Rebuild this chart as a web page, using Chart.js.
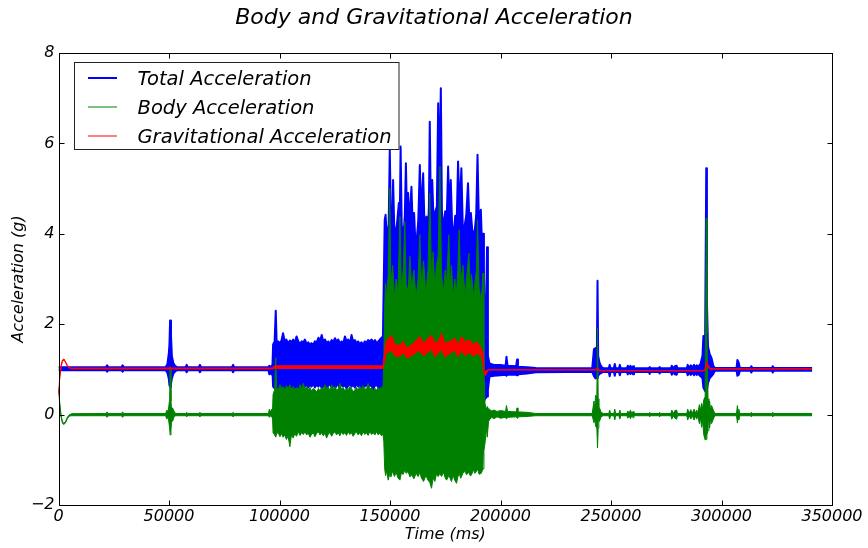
<!DOCTYPE html>
<html>
<head>
<meta charset="UTF-8">
<title>Body and Gravitational Acceleration</title>
<script src="https://cdn.jsdelivr.net/npm/chart.js@4.4.0/dist/chart.umd.min.js"></script>
<style>
  html, body { margin: 0; padding: 0; background: #fff; }
  canvas { display: block; }
</style>
</head>
<body>
<canvas id="chart" width="868" height="548"></canvas>
<script>
// ── 데이터: 각 행 = [time (ms), 하한 (g), 상한 (g)] — 그림에서 읽은 신호 포락선 ──
const totalAccel = [
  [0, 0.98, 1.05], [21500, 0.98, 1.05], [22000, 0.95, 1.09], [22500, 0.98, 1.05],
  [28500, 0.98, 1.05], [29000, 0.95, 1.09], [29500, 0.98, 1.05], [48500, 0.98, 1.05],
  [49300, 0.92, 1.12], [49900, 0.80, 1.35], [50200, 0.65, 1.55], [50500, 0.61, 2.08],
  [50900, 0.68, 1.75], [51300, 0.80, 1.30], [51900, 0.90, 1.15], [52700, 0.95, 1.08],
  [53500, 0.98, 1.05], [57500, 0.98, 1.05], [58000, 0.94, 1.10], [58500, 0.98, 1.05],
  [63500, 0.98, 1.05], [64000, 0.94, 1.10], [64500, 0.98, 1.05], [78500, 0.98, 1.05],
  [79000, 0.94, 1.10], [79500, 0.98, 1.05], [95000, 0.98, 1.05], [95400, 0.89, 1.08],
  [96000, 0.95, 1.04], [96400, 0.89, 1.08], [96800, 0.98, 1.05],
  // 97000 ~ 147000
  [97100, 0.62, 1.55], [97800, 0.58, 1.62], [98300, 0.60, 2.30], [98700, 0.55, 1.60],
  [99400, 0.62, 1.62], [100200, 0.52, 1.58], [100900, 0.60, 1.64], [101600, 0.56, 1.80],
  [102400, 0.64, 1.62], [103100, 0.50, 1.66], [103900, 0.60, 1.58], [104700, 0.58, 1.64],
  [105400, 0.65, 1.60], [106200, 0.54, 1.66], [106900, 0.62, 1.58], [107700, 0.57, 1.73],
  [108500, 0.63, 1.62], [109300, 0.55, 1.56], [110000, 0.66, 1.62], [110800, 0.58, 1.60],
  [111500, 0.62, 1.66], [112300, 0.68, 1.56], [113000, 0.60, 1.60], [113800, 0.66, 1.54],
  [114500, 0.62, 1.58], [115300, 0.68, 1.54], [116000, 0.60, 1.62], [116800, 0.66, 1.60],
  [117600, 0.62, 1.70], [118300, 0.68, 1.62], [119100, 0.58, 1.76], [119800, 0.64, 1.62],
  [120600, 0.60, 1.66], [121300, 0.56, 1.58], [122100, 0.64, 1.62], [122800, 0.68, 1.56],
  [123600, 0.60, 1.65], [124300, 0.66, 1.60], [125100, 0.58, 1.69], [125800, 0.64, 1.62],
  [126600, 0.66, 1.66], [127300, 0.60, 1.58], [128100, 0.68, 1.62], [128800, 0.62, 1.56],
  [129600, 0.66, 1.73], [130300, 0.58, 1.62], [131100, 0.64, 1.66], [131800, 0.68, 1.56],
  [132600, 0.62, 1.76], [133300, 0.66, 1.62], [134100, 0.60, 1.65], [134800, 0.68, 1.58],
  [135600, 0.62, 1.62], [136300, 0.66, 1.56], [137100, 0.60, 1.60], [137800, 0.66, 1.54],
  [138600, 0.62, 1.62], [139300, 0.68, 1.58], [140100, 0.60, 1.65], [140800, 0.66, 1.62],
  [141700, 0.62, 1.66], [142400, 0.56, 1.60], [143200, 0.64, 1.65], [143900, 0.66, 1.58],
  [144700, 0.60, 1.62], [145400, 0.58, 1.66], [146200, 0.56, 1.70], [146800, 0.55, 1.73],
  // 147000 ~ 195000
  [147200, 0.50, 3.00], [147600, 0.00, 4.30], [148000, -0.40, 4.42], [148600, -0.40, 3.90],
  [149400, -0.40, 4.20], [149900, -0.40, 5.86], [150400, -0.40, 4.30], [151000, -0.40, 4.00],
  [151400, -0.40, 5.19], [151900, -0.40, 4.20], [152500, -0.40, 3.90], [153300, -0.40, 4.30],
  [154000, -0.40, 4.68], [154400, -0.40, 4.20], [154800, -0.40, 5.93], [155300, -0.40, 4.20],
  [156000, -0.40, 3.90], [156700, -0.40, 4.40], [157200, -0.40, 5.56], [157700, -0.40, 4.30],
  [158200, -0.40, 4.90], [158800, -0.40, 4.20], [159700, -0.40, 5.04], [160200, -0.40, 4.30],
  [160900, -0.40, 4.46], [161400, -0.40, 3.90], [162000, -0.40, 3.80], [162800, -0.40, 4.30],
  [163500, -0.40, 5.52], [164000, -0.40, 4.40], [165000, -0.40, 5.34], [165600, -0.40, 4.20],
  [166500, -0.40, 4.38], [167100, -0.40, 4.00], [167600, -0.40, 4.60], [168000, -0.40, 6.48],
  [168500, -0.40, 4.40], [169100, -0.40, 5.19], [169700, -0.40, 4.30], [170500, -0.40, 4.50],
  [171200, -0.40, 4.60], [171800, -0.40, 6.89], [172300, -0.40, 5.00], [173000, -0.40, 7.22],
  [173500, -0.40, 4.50], [174000, -0.40, 4.10], [175000, -0.40, 4.50], [175700, -0.40, 4.40],
  [176300, -0.40, 5.49], [176900, -0.40, 4.40], [177500, -0.40, 5.19], [178100, -0.40, 4.20],
  [178700, -0.40, 3.90], [179500, -0.40, 4.40], [180200, -0.40, 4.30], [180800, -0.40, 5.60],
  [181500, -0.40, 4.50], [182300, -0.40, 5.45], [182900, -0.40, 4.20], [183500, -0.40, 4.10],
  [184500, -0.40, 4.40], [185300, -0.40, 5.12], [185900, -0.40, 4.30], [186600, -0.40, 4.46],
  [187500, -0.40, 3.90], [188400, -0.40, 4.10], [189000, -0.40, 4.40], [189600, -0.40, 5.75],
  [190200, -0.40, 4.30], [191100, -0.40, 4.53], [191600, -0.40, 3.80], [192100, -0.40, 4.00],
  [192500, 0.30, 3.20], [193000, 0.35, 1.50], [193400, 0.35, 2.00], [193900, 0.40, 3.70],
  [194300, 0.55, 1.30], [195000, 0.84, 1.13],
  // 195000 ~ 341000
  [197000, 0.86, 1.10], [200000, 0.87, 1.10], [202300, 0.88, 1.08], [202700, 0.86, 1.28],
  [203200, 0.88, 1.08], [207100, 0.88, 1.07], [207500, 0.87, 1.22], [207900, 0.89, 1.06],
  [212000, 0.91, 1.05], [216000, 0.935, 1.03], [230000, 0.945, 1.025], [241500, 0.945, 1.025],
  [242300, 0.85, 1.45], [243000, 0.80, 1.47], [243600, 0.82, 1.30], [243900, 0.80, 2.96],
  [244200, 0.86, 1.30], [244800, 0.90, 1.15], [245500, 0.92, 1.07], [246500, 0.945, 1.025],
  [249000, 0.945, 1.025], [249400, 0.85, 1.10], [249800, 0.945, 1.025], [251300, 0.945, 1.025],
  [251700, 0.86, 1.12], [252100, 0.945, 1.025], [253600, 0.945, 1.025], [254000, 0.87, 1.10],
  [254400, 0.945, 1.025], [257200, 0.945, 1.025], [257600, 0.89, 1.08], [258200, 0.945, 1.025],
  [258800, 0.90, 1.08], [259400, 0.945, 1.025], [260000, 0.89, 1.07], [260400, 0.945, 1.025],
  [267100, 0.945, 1.025], [267500, 0.90, 1.05], [267900, 0.945, 1.025], [271600, 0.945, 1.025],
  [272000, 0.91, 1.05], [272400, 0.945, 1.025], [277100, 0.945, 1.025], [277500, 0.88, 1.08],
  [278200, 0.945, 1.025], [278900, 0.89, 1.07], [279700, 0.88, 1.08], [280100, 0.945, 1.025],
  [284300, 0.945, 1.025], [284700, 0.87, 1.10], [285400, 0.93, 1.04], [286100, 0.88, 1.09],
  [286800, 0.93, 1.04], [287600, 0.87, 1.10], [288300, 0.92, 1.04], [288800, 0.88, 1.09],
  [289300, 0.91, 1.05], [290500, 0.85, 1.12], [291400, 0.80, 1.30], [291800, 0.60, 1.74],
  [292600, 0.52, 1.74], [293100, 0.50, 5.45], [293400, 0.55, 2.50], [293900, 0.70, 1.50],
  [294600, 0.80, 1.35], [295500, 0.85, 1.25], [296300, 0.90, 1.08], [297000, 0.97, 1.03],
  [306800, 0.97, 1.03], [307200, 0.86, 1.21], [307800, 0.88, 1.15], [308300, 0.97, 1.03],
  [313100, 0.97, 1.03], [313500, 0.93, 1.07], [313900, 0.97, 1.03], [322800, 0.97, 1.03],
  [323200, 0.93, 1.07], [323600, 0.97, 1.03], [341000, 0.97, 1.03]
]

const bodyAccel = [
  [0, 0.55, 0.60], [600, 0.19, 0.23], [1200, -0.06, -0.03], [1800, -0.19, -0.16],
  [2400, -0.22, -0.19], [3200, -0.18, -0.15], [4000, -0.09, -0.06], [5000, -0.03, 0.00],
  [6000, -0.025, 0.02], [21500, -0.025, 0.025], [22000, -0.06, 0.06], [22500, -0.025, 0.025],
  [28500, -0.025, 0.025], [29000, -0.06, 0.06], [29500, -0.025, 0.025], [48500, -0.025, 0.025],
  [49000, -0.10, 0.10], [49500, -0.05, 0.06], [49900, -0.15, 0.18], [50300, -0.30, 0.35],
  [50500, -0.45, 1.03], [50900, -0.35, 0.30], [51200, -0.10, 0.10], [51600, -0.15, 0.15],
  [52200, -0.06, 0.08], [53000, -0.025, 0.025],
  [57500, -0.025, 0.025], [58000, -0.05, 0.05], [58500, -0.025, 0.025], [63500, -0.025, 0.025],
  [64000, -0.05, 0.05], [64500, -0.025, 0.025], [78500, -0.025, 0.025], [79000, -0.05, 0.05],
  [79500, -0.025, 0.025], [95000, -0.025, 0.025], [95400, -0.06, 0.12], [96000, -0.02, 0.05],
  [96400, -0.06, 0.12], [96800, -0.025, 0.025],
  // 97000 ~ 147000
  [97100, -0.40, 0.45], [97800, -0.45, 0.55], [98300, -0.50, 1.26], [98700, -0.42, 0.60],
  [99400, -0.40, 0.55], [100200, -0.49, 0.66], [100900, -0.42, 0.58], [101600, -0.50, 0.62],
  [102400, -0.45, 0.55], [103100, -0.55, 0.64], [103900, -0.48, 0.58], [104700, -0.71, 0.66],
  [105400, -0.45, 0.56], [106200, -0.52, 0.62], [106900, -0.42, 0.55], [107700, -0.48, 0.60],
  [108500, -0.38, 0.54], [109300, -0.46, 0.66], [110000, -0.40, 0.58], [110800, -0.44, 0.69],
  [111500, -0.38, 0.56], [112300, -0.45, 0.62], [113000, -0.41, 0.55], [113800, -0.50, 0.60],
  [114500, -0.44, 0.52], [115300, -0.40, 0.58], [116000, -0.49, 0.55], [116800, -0.42, 0.50],
  [117600, -0.38, 0.58], [118300, -0.45, 0.52], [119100, -0.40, 0.60], [119800, -0.47, 0.55],
  [120600, -0.41, 0.66], [121300, -0.52, 0.58], [122100, -0.43, 0.62], [122800, -0.40, 0.52],
  [123600, -0.48, 0.66], [124300, -0.42, 0.56], [125100, -0.38, 0.62], [125800, -0.45, 0.54],
  [126600, -0.40, 0.58], [127300, -0.47, 0.69], [128100, -0.38, 0.55], [128800, -0.44, 0.60],
  [129600, -0.40, 0.52], [130300, -0.46, 0.58], [131100, -0.38, 0.55], [131800, -0.44, 0.62],
  [132600, -0.40, 0.58], [133300, -0.48, 0.50], [134100, -0.42, 0.55], [134800, -0.38, 0.60],
  [135600, -0.45, 0.54], [136300, -0.40, 0.62], [137100, -0.47, 0.56], [137800, -0.38, 0.64],
  [138600, -0.44, 0.58], [139300, -0.40, 0.55], [140100, -0.46, 0.69], [140800, -0.38, 0.56],
  [141700, -0.44, 0.60], [142400, -0.40, 0.52], [143200, -0.45, 0.58], [143900, -0.38, 0.54],
  [144700, -0.45, 0.60], [145400, -0.41, 0.55], [146200, -0.47, 0.62], [146800, -0.42, 0.58],
  // 147000 ~ 195000
  [147200, -0.60, 1.20], [147600, -1.20, 2.40], [148000, -1.35, 2.90], [148500, -1.25, 2.60],
  [149200, -1.45, 3.10], [149900, -1.30, 5.00], [150400, -1.38, 2.80], [151200, -1.25, 3.30],
  [152000, -1.37, 2.60], [152800, -1.28, 3.00], [153600, -1.40, 2.70], [154500, -1.45, 4.38],
  [155100, -1.30, 2.80], [156000, -1.32, 3.20], [156700, -1.22, 4.27], [157300, -1.30, 2.90],
  [158200, -1.26, 2.70], [159000, -1.38, 3.50], [159800, -1.33, 2.80], [160800, -1.42, 3.20],
  [161800, -1.30, 2.60], [162700, -1.37, 3.00], [163500, -1.28, 3.98], [164200, -1.40, 2.90],
  [165200, -1.48, 3.40], [166200, -1.35, 2.70], [167200, -1.45, 3.20], [168000, -1.50, 4.90],
  [168800, -1.63, 3.00], [169500, -1.40, 3.60], [170300, -1.48, 2.80], [171000, -1.32, 3.30],
  [171800, -1.37, 3.50], [172600, -1.30, 5.49], [173300, -1.37, 3.10], [174200, -1.28, 2.70],
  [175000, -1.40, 3.20], [175600, -1.45, 2.90], [176600, -1.35, 3.98], [177300, -1.42, 2.80],
  [177800, -1.48, 3.30], [178600, -1.35, 2.60], [179300, -1.45, 3.00], [180100, -1.52, 2.70],
  [180700, -1.38, 3.20], [181300, -1.30, 4.09], [182000, -1.41, 2.90], [183000, -1.30, 3.30],
  [184000, -1.25, 2.60], [184600, -1.33, 3.00], [185700, -1.28, 3.57], [186400, -1.36, 2.80],
  [186900, -1.33, 3.10], [187800, -1.22, 2.60], [188400, -1.30, 2.90], [189100, -1.26, 3.20],
  [189600, -1.20, 4.31], [190300, -1.32, 2.80], [191300, -1.30, 2.50], [192100, -1.20, 3.13],
  [192500, -0.80, 1.00], [193000, -0.63, 0.25], [193600, -0.30, 0.10], [194000, -0.50, 0.18],
  [194600, -0.15, 0.12], [195000, -0.12, 0.12],
  // 195000 ~ 341000
  [196000, -0.06, 0.08], [197000, -0.09, 0.10], [198500, -0.05, 0.07], [200000, -0.08, 0.09],
  [202300, -0.06, 0.07], [202700, -0.10, 0.20], [203200, -0.06, 0.07], [207100, -0.05, 0.06],
  [207500, -0.08, 0.15], [207900, -0.05, 0.06], [212000, -0.04, 0.05], [216000, -0.025, 0.025],
  [241500, -0.025, 0.025], [242300, -0.18, 0.30], [242700, -0.08, 0.12], [243000, -0.25, 0.43],
  [243600, -0.30, 0.40], [243900, -0.74, 1.91], [244200, -0.30, 0.35], [244500, -0.08, 0.10],
  [244800, -0.15, 0.15], [245500, -0.05, 0.05], [246500, -0.025, 0.025], [249000, -0.025, 0.025],
  [249400, -0.10, 0.10], [249800, -0.025, 0.025], [251300, -0.025, 0.025], [251700, -0.12, 0.12],
  [252100, -0.025, 0.025], [253600, -0.025, 0.025], [254000, -0.10, 0.10], [254400, -0.025, 0.025],
  [257200, -0.025, 0.025], [257600, -0.08, 0.08], [258200, -0.025, 0.025], [258800, -0.09, 0.10],
  [259400, -0.025, 0.025], [260000, -0.07, 0.07], [260400, -0.025, 0.025], [267100, -0.025, 0.025],
  [267500, -0.05, 0.05], [267900, -0.025, 0.025], [271600, -0.025, 0.025], [272000, -0.05, 0.05],
  [272400, -0.025, 0.025], [277100, -0.025, 0.025], [277500, -0.10, 0.10], [278200, -0.025, 0.025],
  [278900, -0.08, 0.09], [279700, -0.10, 0.10], [280100, -0.025, 0.025], [284300, -0.025, 0.025],
  [284700, -0.12, 0.12], [285400, -0.025, 0.03], [286100, -0.10, 0.11], [286800, -0.025, 0.03],
  [287600, -0.12, 0.12], [288300, -0.03, 0.03], [288800, -0.10, 0.10], [289300, -0.03, 0.03],
  [290000, -0.20, 0.22], [290500, -0.08, 0.10], [291000, -0.28, 0.25], [291400, -0.12, 0.12],
  [292000, -0.45, 0.33], [292600, -0.56, 0.40], [293100, -0.55, 4.35], [293400, -0.45, 1.80],
  [293900, -0.35, 0.35], [294300, -0.12, 0.15], [294600, -0.30, 0.30], [295100, -0.10, 0.10],
  [295500, -0.20, 0.20], [296300, -0.10, 0.10], [297000, -0.025, 0.025], [306800, -0.025, 0.025],
  [307200, -0.18, 0.20], [307500, -0.05, 0.05], [307800, -0.12, 0.12], [308300, -0.025, 0.025],
  [313100, -0.025, 0.025], [313500, -0.05, 0.05], [313900, -0.025, 0.025], [322800, -0.025, 0.025],
  [323200, -0.05, 0.05], [323600, -0.025, 0.025], [341000, -0.025, 0.025]
]

const gravAccel = [
  [0, 0.44, 0.47], [600, 0.83, 0.86], [1200, 1.06, 1.09], [1800, 1.18, 1.21],
  [2500, 1.21, 1.23], [3200, 1.15, 1.17], [4000, 1.07, 1.09], [5000, 1.02, 1.04],
  [6000, 1.01, 1.03], [50000, 1.01, 1.03], [50500, 1.00, 1.06], [51000, 1.01, 1.03],
  [97000, 1.01, 1.03], [97600, 1.02, 1.08], [146800, 1.02, 1.08],
  [147500, 1.15, 1.35], [148200, 1.35, 1.62], [149200, 1.38, 1.68], [150700, 1.42, 1.76],
  [152200, 1.30, 1.54], [154500, 1.28, 1.54], [156000, 1.38, 1.62], [157500, 1.25, 1.47],
  [159700, 1.30, 1.54], [162000, 1.38, 1.65], [163500, 1.42, 1.73], [165000, 1.30, 1.58],
  [167300, 1.38, 1.69], [168800, 1.45, 1.76], [170300, 1.28, 1.58], [171800, 1.35, 1.62],
  [173300, 1.45, 1.80], [174800, 1.27, 1.58], [177100, 1.35, 1.62], [179300, 1.42, 1.69],
  [180800, 1.28, 1.54], [182400, 1.42, 1.73], [183900, 1.30, 1.62], [186100, 1.38, 1.65],
  [187600, 1.28, 1.54], [189100, 1.35, 1.62], [191300, 1.30, 1.47], [192100, 1.10, 1.35],
  [192600, 0.90, 1.00], [193200, 0.86, 0.95], [194000, 0.95, 0.99], [195000, 0.985, 0.995],
  [243500, 0.985, 0.995], [243900, 1.01, 1.05], [244600, 0.965, 0.985], [245200, 0.965, 0.975],
  [292300, 0.965, 0.975], [292800, 0.99, 1.06], [293300, 1.10, 1.17], [293900, 1.05, 1.10],
  [294800, 1.00, 1.03], [296000, 1.005, 1.015], [341000, 1.005, 1.015]
]

const seriesLabels = ['Total Acceleration', 'Body Acceleration', 'Gravitational Acceleration']
const seriesColors = ['#0000ff', '#008000', '#ff0000']
const xTicks = [0, 50000, 100000, 150000, 200000, 250000, 300000, 350000]
const yTicks = [-2, 0, 2, 4, 6, 8]
const chartTitle = 'Body and Gravitational Acceleration'

const FONT = "'DejaVu Sans', sans-serif"

// 상한/하한 두 선 사이를 채워 잡음 띠를 그림
const hiPts = rows => rows.map(r => ({ x: r[0], y: r[2] }))
const loPts = rows => rows.map(r => ({ x: r[0], y: r[1] }))

function band(rows, color, width) {
  const common = { borderColor: color, backgroundColor: color, borderWidth: width,
                   pointRadius: 0, tension: 0, borderJoinStyle: 'round' }
  return [
    { ...common, data: hiPts(rows), fill: '+1' },
    { ...common, data: loPts(rows), fill: false },
  ]
}

// 첫 데이터셋이 맨 위에 그려짐 → 중력(빨강), 몸체(초록), 전체(파랑) 순
const datasets = [
  ...band(gravAccel, seriesColors[2], 1),
  ...band(bodyAccel, seriesColors[1], 1),
  ...band(totalAccel, seriesColors[0], 2),
]

// ── 제목 + 안쪽 눈금 + 테두리 (matplotlib classic 스타일) ──
const frameTicks = {
  id: 'frameTicks',
  afterDatasetsDraw(chart) {
    const { ctx, chartArea: a, scales: { x, y } } = chart
    const L = Math.round(a.left) + 0.5, R = Math.round(a.right) + 0.5
    const T = Math.round(a.top) + 0.5, B = Math.round(a.bottom) + 0.5
    ctx.save()
    ctx.strokeStyle = '#000'
    ctx.lineWidth = 1
    ctx.beginPath()
    for (const v of xTicks) {
      const px = Math.round(x.getPixelForValue(v)) + 0.5
      ctx.moveTo(px, B); ctx.lineTo(px, B - 5)
      ctx.moveTo(px, T); ctx.lineTo(px, T + 5)
    }
    for (const v of yTicks) {
      const py = Math.round(y.getPixelForValue(v)) + 0.5
      ctx.moveTo(L, py); ctx.lineTo(L + 5, py)
      ctx.moveTo(R, py); ctx.lineTo(R - 5, py)
    }
    ctx.stroke()
    ctx.strokeRect(L, T, R - L, B - T)

    // 그림 전체 폭 기준 가운데 제목
    ctx.fillStyle = '#000'
    ctx.font = `italic 22px ${FONT}`
    ctx.textAlign = 'center'
    ctx.textBaseline = 'middle'
    ctx.fillText(chartTitle, chart.width / 2, 18)
    ctx.restore()
  }
}

// ── 범례 (플롯 안 왼쪽 위 상자) ──
const boxLegend = {
  id: 'boxLegend',
  afterDraw(chart) {
    const { ctx } = chart
    const widths = [2, 1, 1]
    ctx.save()
    ctx.fillStyle = '#fff'
    ctx.fillRect(74.5, 62.5, 324.5, 87)
    ctx.strokeStyle = '#222'
    ctx.lineWidth = 1
    ctx.strokeRect(74.5, 62.5, 324.5, 87)
    ctx.font = `italic 19.5px ${FONT}`
    ctx.textBaseline = 'middle'
    seriesLabels.forEach((label, i) => {
      const cy = 78 + i * 29
      ctx.strokeStyle = seriesColors[i]
      ctx.lineWidth = widths[i]
      ctx.beginPath()
      ctx.moveTo(88, cy); ctx.lineTo(117, cy)
      ctx.stroke()
      ctx.fillStyle = '#000'
      ctx.fillText(label, 137.5, cy + 1.5)
    })
    ctx.restore()
  }
}

new Chart(document.getElementById('chart'), {
  type: 'line',
  data: { datasets },
  plugins: [frameTicks, boxLegend],
  options: {
    responsive: false,
    devicePixelRatio: 1,
    animation: false,
    events: [],
    layout: { padding: { left: 0, right: 36, top: 53, bottom: 0 } },
    plugins: {
      legend: { display: false },
      tooltip: { enabled: false },
      title: { display: false },
    },
    scales: {
      x: {
        type: 'linear', min: 0, max: 350000,
        afterFit: s => { s.height = 43 },
        afterBuildTicks: s => { s.ticks = xTicks.map(v => ({ value: v })) },
        ticks: { color: '#000', padding: 2, maxRotation: 0, autoSkip: false,
                 font: { family: FONT, size: 16, style: 'italic' },
                 callback: v => String(v) },
        grid: { display: false, drawTicks: false },
        border: { display: false },
        title: { display: true, text: 'Time (ms)', color: '#000', padding: { top: 0, bottom: 4 },
                 font: { family: FONT, size: 16, style: 'italic' } },
      },
      y: {
        type: 'linear', min: -2, max: 8,
        afterFit: s => { s.width = 58.5 },
        afterBuildTicks: s => { s.ticks = yTicks.map(v => ({ value: v })) },
        ticks: { color: '#000', padding: 4, autoSkip: false,
                 font: { family: FONT, size: 16, style: 'italic' },
                 callback: v => (v < 0 ? '\u2212' + Math.abs(v) : String(v)) },
        grid: { display: false, drawTicks: false },
        border: { display: false },
        title: { display: true, text: 'Acceleration (g)', color: '#000', padding: { top: 9, bottom: 0 },
                 font: { family: FONT, size: 16, style: 'italic' } },
      },
    },
  },
})
</script>
</body>
</html>
